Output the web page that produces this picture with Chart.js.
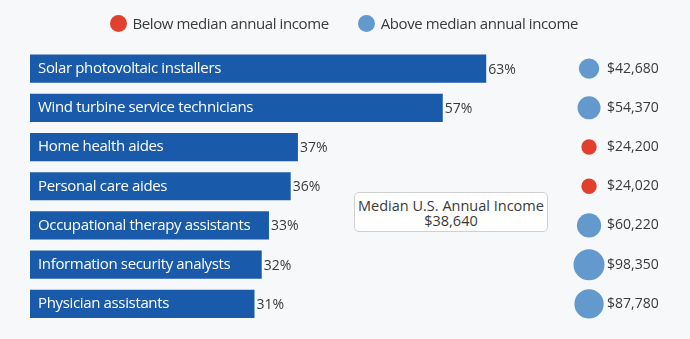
<!DOCTYPE html>
<html>
<head>
<meta charset="utf-8">
<script src="https://cdn.jsdelivr.net/npm/chart.js@4/dist/chart.umd.min.js"></script>
<style>
  html, body { margin: 0; padding: 0; background: #f7f8fa; }
  #wrap { position: relative; width: 690px; height: 339px; font-family: "Open Sans", sans-serif; }
  canvas { position: absolute; left: 0; top: 0; }
  #legend { position: absolute; top: 14.5px; left: 109.5px; display: flex; align-items: center; font-size: 15px; line-height: 17px; letter-spacing: -0.4px; color: #3a3a3a; white-space: nowrap; }
  .dot { display: inline-block; width: 17px; height: 17px; border-radius: 50%; margin-right: 6px; }
  .item { display: flex; align-items: center; margin-right: 29px; }
  #median { position: absolute; left: 354px; top: 192px; width: 192px; height: 33px; border: 1px solid #cfcfcf; border-radius: 5px; background: #fff; text-align: center; font-size: 14.5px; line-height: 15px; color: #3a3a3a; padding-top: 5px; box-sizing: content-box; }
</style>
</head>
<body>
<div id="wrap">
  <canvas id="c" width="690" height="339"></canvas>
  <div id="legend"></div>
  <div id="median"></div>
</div>
<script>
const categories = [
  "Solar photovoltaic installers",
  "Wind turbine service technicians",
  "Home health aides",
  "Personal care aides",
  "Occupational therapy assistants",
  "Information security analysts",
  "Physician assistants"
];
const growthPct = [63, 57, 37, 36, 33, 32, 31];
const annualIncome = [42680, 54370, 24200, 24020, 60220, 98350, 87780];
const medianIncome = 38640;
const legendLabels = ["Below median annual income", "Above median annual income"];
const medianLabel = "Median U.S. Annual Income";

const BAR_COLOR = "#1a5aaa";
const RED = "#e1402f";
const BLUE = "#6399cc";
const TEXT = "#3a3a3a";
const INCOME_COLUMN = 77.2;   // x position (in % scale units) of the income bubbles
const R_FACTOR = 0.0494;

const fmt = v => "$" + v.toLocaleString("en-US");

const lg = document.getElementById("legend");
[[RED, legendLabels[0]], [BLUE, legendLabels[1]]].forEach(([c, t]) => {
  const it = document.createElement("div"); it.className = "item";
  const d = document.createElement("span"); d.className = "dot"; d.style.background = c;
  it.appendChild(d); it.appendChild(document.createTextNode(t)); lg.appendChild(it);
});
document.getElementById("median").innerHTML = medianLabel + "<br>" + fmt(medianIncome);

const labelPlugin = {
  id: "labels",
  afterDatasetsDraw(chart) {
    const ctx = chart.ctx;
    ctx.save();
    ctx.textBaseline = "middle";
    ctx.textAlign = "left";
    const barMeta = chart.getDatasetMeta(0);
    barMeta.data.forEach((el, i) => {
      ctx.font = '15px "Open Sans"';
      ctx.letterSpacing = "-0.35px";
      ctx.fillStyle = "#ffffff";
      ctx.fillText(categories[i], el.base + 8, el.y);
      ctx.font = '14px "Open Sans"';
      ctx.letterSpacing = "0px";
      ctx.fillStyle = TEXT;
      ctx.fillText(growthPct[i] + "%", el.x + 2, el.y + 1);
    });
    const bMeta = chart.getDatasetMeta(1);
    ctx.font = '14px "Open Sans"';
    ctx.letterSpacing = "0px";
    bMeta.data.forEach((el, i) => {
      ctx.fillStyle = TEXT;
      ctx.fillText(fmt(annualIncome[i]), el.x + 18, el.y);
    });
    ctx.restore();
  }
};

new Chart(document.getElementById("c"), {
  type: "bar",
  data: {
    labels: categories,
    datasets: [
      {
        type: "bar",
        data: growthPct,
        backgroundColor: BAR_COLOR,
        barPercentage: 1,
        categoryPercentage: 0.72,
        borderWidth: 0
      },
      {
        type: "bubble",
        data: annualIncome.map((v, i) => ({ x: INCOME_COLUMN, y: i, r: R_FACTOR * Math.sqrt(v) })),
        backgroundColor: annualIncome.map(v => v < medianIncome ? RED : BLUE),
        borderWidth: 0,
        hoverBorderWidth: 0
      }
    ]
  },
  options: {
    indexAxis: "y",
    responsive: false,
    animation: false,
    events: [],
    layout: { padding: { left: 30, right: 30, top: 49, bottom: 12 } },
    plugins: { legend: { display: false }, tooltip: { enabled: false } },
    scales: {
      x: { type: "linear", min: 0, max: 87, display: false, grid: { display: false } },
      y: { type: "category", display: false, grid: { display: false }, offset: true }
    }
  },
  plugins: [labelPlugin]
});
</script>
</body>
</html>
